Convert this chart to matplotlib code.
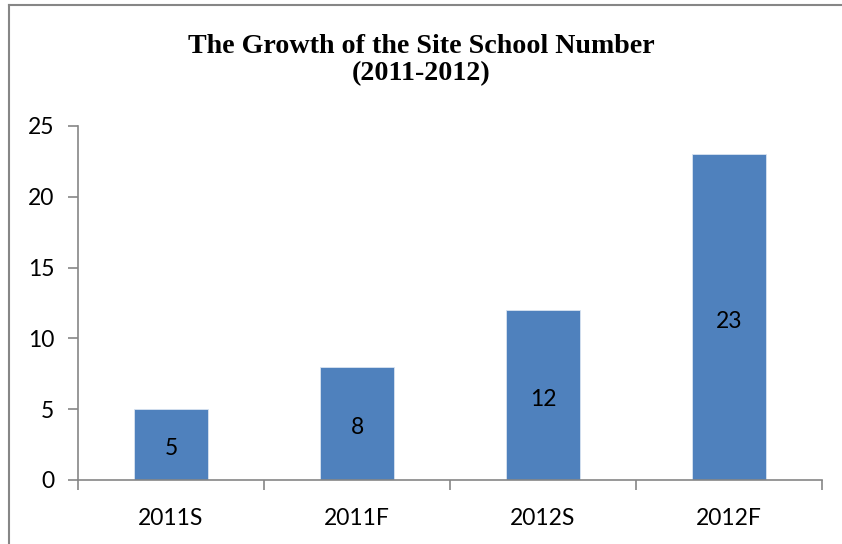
import matplotlib.pyplot as plt
from matplotlib.lines import Line2D

categories = ["2011S", "2011F", "2012S", "2012F"]
values = [5, 8, 12, 23]
yticks = [0, 5, 10, 15, 20, 25]

bar_color = "#4F81BD"
axis_color = "#868686"

fig = plt.figure(figsize=(8.42, 5.44), dpi=100)
ax = fig.add_axes([78 / 842, 1 - 480 / 544, (822 - 78) / 842, (480 - 126) / 544])

# chart border: only the left and top edges are inside the picture
bx, by = 8.5 / 842, 1 - 4.5 / 544
fig.lines.append(Line2D([bx, bx], [0, by], transform=fig.transFigure,
                        color=axis_color, linewidth=1.5))
fig.lines.append(Line2D([bx, 1], [by, by], transform=fig.transFigure,
                        color=axis_color, linewidth=1.5))

x = list(range(len(categories)))
bars = ax.bar(x, values, width=0.4, color=bar_color, edgecolor="#D9E4F1", linewidth=0.6)
for rect, v in zip(bars, values):
    ax.annotate(str(v), (rect.get_x() + rect.get_width() / 2, v / 2),
                xytext=(0, -4), textcoords="offset pixels",
                ha="center", va="center", fontsize=16.5, family="Lato", color="black")

ax.set_xlim(-0.5, len(categories) - 0.5)
ax.set_ylim(0, 25)
ax.set_yticks(yticks)
ax.set_yticklabels([str(t) for t in yticks], family="Lato", fontsize=16.5)
ax.set_xticks([i + 0.5 for i in range(-1, len(categories))])
ax.set_xticklabels([])
ax.set_xticks(x, minor=True)
ax.set_xticklabels(categories, minor=True, family="Lato", fontsize=16.5)
ax.tick_params(axis="x", which="minor", length=0, pad=20)
ax.tick_params(axis="x", which="major", length=7, color=axis_color, width=1.2)
ax.tick_params(axis="y", length=7, color=axis_color, width=1.2, pad=10)

for s in ["top", "right"]:
    ax.spines[s].set_visible(False)
for s in ["left", "bottom"]:
    ax.spines[s].set_color(axis_color)
    ax.spines[s].set_linewidth(1.2)

fig.text(0.5, 1 - 60 / 544, "The Growth of the Site School Number\n(2011-2012)",
         ha="center", va="center", family="Liberation Serif", fontweight="bold",
         fontsize=20.2, linespacing=1.15)

plt.savefig("out.png", dpi=100)
